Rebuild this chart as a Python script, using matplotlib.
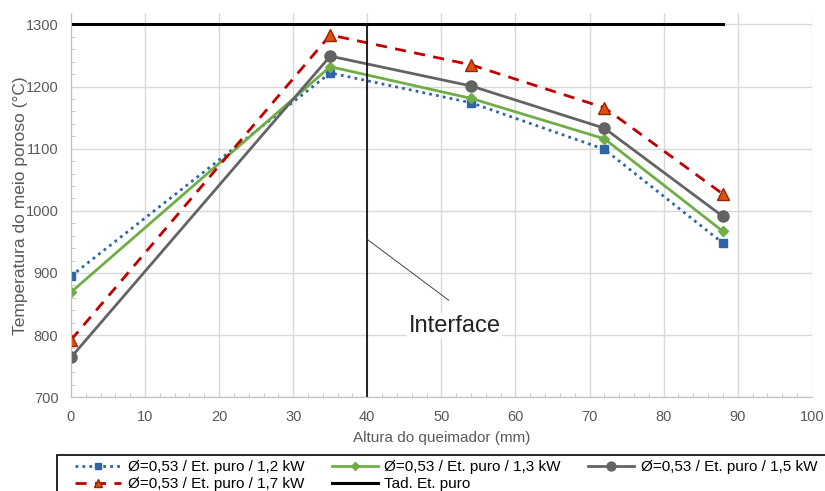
import matplotlib
matplotlib.use("Agg")
import matplotlib.pyplot as plt
from matplotlib.patches import Rectangle
from matplotlib.ticker import MultipleLocator

plt.rcParams['font.family'] = ['Liberation Sans', 'DejaVu Sans']

altura = [0, 35, 54, 72, 88]
t_12kw = [895, 1222, 1174, 1099, 948]
t_13kw = [869, 1232, 1181, 1116, 967]
t_15kw = [764, 1249, 1201, 1133, 991]
t_17kw = [792, 1283, 1235, 1166, 1027]
tad_x = [0, 88]
tad_y = [1300, 1300]
interface_x = 40

fig = plt.figure(figsize=(8.25, 4.91), dpi=100)
ax = fig.add_axes([0.086, 0.191, 0.898, 0.782])

h12, = ax.plot(altura, t_12kw, color='#2e65a8', ls=(0, (1, 1.5)), lw=2, marker='s', ms=6,
               label='Ø=0,53 / Et. puro / 1,2 kW')
h13, = ax.plot(altura, t_13kw, color='#70ad47', lw=2, marker='D', ms=5,
               label='Ø=0,53 / Et. puro / 1,3 kW')
h15, = ax.plot(altura, t_15kw, color='#636363', lw=2, marker='o', ms=8,
               label='Ø=0,53 / Et. puro / 1,5 kW')
h17, = ax.plot(altura, t_17kw, color='#c00000', ls=(0, (4, 3)), lw=2, marker='^', ms=8,
               mfc='#d9530f', mec='#a02000', label='Ø=0,53 / Et. puro / 1,7 kW')
htad, = ax.plot(tad_x, tad_y, color='black', lw=2.2, label='Tad. Et. puro')

ax.plot([interface_x, interface_x], [700, 1300], color='black', lw=1.2)
ax.annotate('', xy=(interface_x, 954), xytext=(51, 856),
            arrowprops=dict(arrowstyle='-', color='#444444', lw=0.7,
                            shrinkA=0, shrinkB=0))
ax.text(45.6, 815, 'Interface', fontsize=17, color='#222222', va='center',
        bbox=dict(fc='white', ec='none', pad=1))

ax.set_xlim(0, 100)
ax.set_ylim(700, 1318)
ax.set_yticks(range(700, 1301, 100))
ax.set_xticks(range(0, 101, 10))
ax.xaxis.set_minor_locator(MultipleLocator(2))
ax.yaxis.set_minor_locator(MultipleLocator(20))
ax.grid(True, which='major', color='#d9d9d9', lw=1)
ax.set_axisbelow(True)
for s in ['top', 'right']:
    ax.spines[s].set_visible(False)
for s in ['left', 'bottom']:
    ax.spines[s].set_color('#bfbfbf')
ax.tick_params(which='both', direction='in', colors='#bfbfbf', labelcolor='#595959',
               labelsize=10.5)
ax.tick_params(which='major', length=0, pad=9)
ax.tick_params(which='minor', length=3)
ax.set_xlabel('Altura do queimador (mm)', fontsize=11, color='#595959', labelpad=5)
ax.set_ylabel('Temperatura do meio poroso (°C)', fontsize=12.5, color='#595959', labelpad=-2)

# legend box (runs off the bottom/right edge as in the reference)
fig.patches.append(Rectangle((57 / 825, -0.05), 1.0, 1 - 455 / 491 + 0.05,
                             transform=fig.transFigure, fill=False,
                             ec='black', lw=1.2))
handles = [h12, h17, h13, htad, h15]
fig.legend(handles=handles, loc='upper left', bbox_to_anchor=(75 / 825, 1 - 460 / 491),
           ncol=3, fontsize=11, frameon=False, handlelength=3.0, handletextpad=0.45,
           columnspacing=1.8, borderaxespad=0, borderpad=0, labelspacing=0.2,
           markerscale=0.8)

fig.savefig('out.png', dpi=100)
